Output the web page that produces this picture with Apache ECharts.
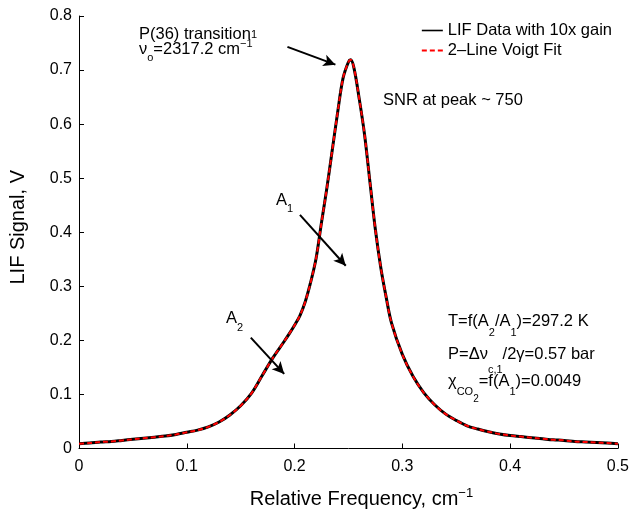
<!DOCTYPE html>
<html>
<head>
<meta charset="utf-8">
<script src="https://cdn.jsdelivr.net/npm/echarts@6/dist/echarts.min.js"></script>
<style>
html,body{margin:0;padding:0;background:#fff;}
#chart{width:632px;height:517px;}
</style>
</head>
<body>
<div id="chart"></div>
<script>
// ---- data ----
const frequency = [0,0.01,0.02,0.03,0.04,0.05,0.06,0.07,0.08,0.09,0.10,0.11,0.12,0.13,0.14,0.15,0.16,0.17,0.18,0.19,0.195,0.20,0.205,0.21,0.215,0.22,0.225,0.23,0.235,0.24,0.245,0.25,0.252,0.255,0.26,0.265,0.27,0.275,0.28,0.285,0.29,0.30,0.31,0.32,0.33,0.34,0.35,0.36,0.37,0.38,0.39,0.40,0.41,0.42,0.43,0.44,0.45,0.46,0.47,0.48,0.49,0.50];
const lifSignal = [0.009,0.010,0.012,0.013,0.015,0.017,0.019,0.021,0.023,0.026,0.030,0.034,0.040,0.049,0.062,0.079,0.102,0.135,0.168,0.197,0.212,0.228,0.246,0.272,0.308,0.352,0.418,0.482,0.552,0.622,0.685,0.715,0.719,0.705,0.647,0.580,0.492,0.405,0.335,0.280,0.232,0.174,0.133,0.103,0.081,0.064,0.052,0.042,0.036,0.031,0.027,0.024,0.022,0.020,0.018,0.016,0.015,0.013,0.012,0.011,0.010,0.009];
const voigtFit = [0.009,0.010,0.012,0.013,0.015,0.017,0.019,0.021,0.023,0.026,0.030,0.034,0.040,0.049,0.062,0.079,0.102,0.135,0.168,0.197,0.212,0.228,0.246,0.272,0.308,0.352,0.418,0.482,0.552,0.622,0.685,0.715,0.719,0.705,0.647,0.580,0.492,0.405,0.335,0.280,0.232,0.174,0.133,0.103,0.081,0.064,0.052,0.042,0.036,0.031,0.027,0.024,0.022,0.020,0.018,0.016,0.015,0.013,0.012,0.011,0.010,0.009];
const seriesNames = ['LIF Data with 10x gain', '2\u2013Line Voigt Fit'];
const xTicks = {min: 0, max: 0.5, interval: 0.1};
const yTicks = {min: 0, max: 0.8, interval: 0.1};
// arrow annotations: [start, end] in data coordinates
const arrows = [
  [[0.1934, 0.743], [0.2379, 0.710]],
  [[0.205, 0.432], [0.2475, 0.338]],
  [[0.1594, 0.205], [0.1904, 0.138]]
];

// ---- styling ----
const FAMILY = '"Liberation Sans", Arial, Helvetica, sans-serif';
const font = s => s + 'px ' + FAMILY;
const measureCtx = document.createElement('canvas').getContext('2d');
// segments: [text, fontSize, baselineShift(+down)]
function textLine(x, baseline, segs) {
  const out = [];
  let cx = x;
  segs.forEach(function (s) {
    const size = s[1];
    measureCtx.font = font(size);
    out.push({
      type: 'text', x: cx, y: baseline + s[2] - 0.33 * size, silent: true,
      style: {text: s[0], font: font(size), fill: '#000', align: 'left', verticalAlign: 'middle'}
    });
    cx += measureCtx.measureText(s[0]).width;
  });
  return out;
}

const chart = echarts.init(document.getElementById('chart'), null, {renderer: 'canvas'});
const toPairs = (xs, ys) => xs.map((x, i) => [x, ys[i]]);
const N = 16.5, S = 11;

chart.setOption({
  animation: false,
  backgroundColor: '#fff',
  grid: {left: 72, right: 12, top: 16, bottom: 59, containLabel: false},
  legend: {
    data: [
      {name: seriesNames[0], icon: 'path://M0,0H21V1.6H0Z'},
      {name: seriesNames[1], icon: 'path://M0,0H5V2H0Z M8,0H13V2H8Z M16,0H21V2H16Z'}
    ],
    orient: 'vertical', right: 15, top: 17,
    itemWidth: 21, itemHeight: 14, itemGap: 3,
    textStyle: {fontSize: 16.5, fontFamily: FAMILY, color: '#000'}
  },
  xAxis: {
    type: 'value', min: xTicks.min, max: xTicks.max, interval: xTicks.interval,
    name: 'Relative Frequency, cm{sup|\u22121}', nameLocation: 'middle', nameGap: 41,
    nameTextStyle: {fontSize: 20, fontFamily: FAMILY, color: '#000', padding: [0, 0, 0, 26],
      rich: {sup: {fontSize: 13, fontFamily: FAMILY, color: '#000', lineHeight: 13, padding: [0, 0, 12, 0], verticalAlign: 'middle'}}},
    axisLine: {show: true, onZero: false, lineStyle: {color: '#000', width: 1}},
    axisTick: {show: true, inside: true, length: 5, lineStyle: {color: '#000'}},
    axisLabel: {fontSize: 16, fontFamily: FAMILY, color: '#000', margin: 10},
    splitLine: {show: false}
  },
  yAxis: {
    type: 'value', min: yTicks.min, max: yTicks.max, interval: yTicks.interval,
    name: 'LIF Signal, V', nameLocation: 'middle', nameGap: 51,
    nameTextStyle: {fontSize: 20, fontFamily: FAMILY, color: '#000', padding: [0, 0, 0, 10]},
    axisLine: {show: true, onZero: false, lineStyle: {color: '#000', width: 1}},
    axisTick: {show: true, inside: true, length: 5, lineStyle: {color: '#000'}},
    axisLabel: {fontSize: 16, fontFamily: FAMILY, color: '#000', margin: 7},
    splitLine: {show: false}
  },
  series: [
    {
      name: seriesNames[0], type: 'line', data: toPairs(frequency, lifSignal),
      symbol: 'none', smooth: 0.35,
      lineStyle: {color: '#000', width: 3}, itemStyle: {color: '#000'}, z: 2
    },
    {
      name: seriesNames[1], type: 'line', data: toPairs(frequency, voigtFit),
      symbol: 'none', smooth: 0.35,
      lineStyle: {color: '#ff0000', width: 2, type: [5, 3]}, itemStyle: {color: '#ff0000'}, z: 3
    },
    {
      name: 'arrows', type: 'line', data: [], z: 4,
      markLine: {
        silent: true, symbol: ['none', 'arrow'], symbolSize: [9, 12],
        label: {show: false},
        lineStyle: {color: '#000', width: 2, type: 'solid'},
        emphasis: {disabled: true},
        data: arrows.map(a => [{coord: a[0]}, {coord: a[1]}])
      }
    }
  ],
  graphic: [].concat(
    textLine(139, 40, [['P(36) transition', N, 0], ['1', S, -1]]),
    textLine(139, 55, [['\u03bd', N, 0], ['o', S, 7], ['=2317.2 cm', N, 0], ['\u22121', S, -7]]),
    textLine(383, 106, [['SNR at peak ~ 750', N, 0]]),
    textLine(276, 206, [['A', N, 0], ['1', S, 7]]),
    textLine(226, 324, [['A', N, 0], ['2', S, 7.5]]),
    textLine(448, 327, [['T=f(A', N, 0], ['2', S, 10], ['/A', N, 0], ['1', S, 10], [')=297.2 K', N, 0]]),
    textLine(448, 360, [['P=\u0394\u03bd', N, 0], ['c,1', S, 14], ['/2\u03b3=0.57 bar', N, 0]]),
    textLine(448, 387, [['\u03c7', N, 0], ['CO', S, 9], ['2', 10, 16], ['=f(A', N, 0], ['1', S, 9], [')=0.0049', N, 0]])
  )
});
</script>
</body>
</html>
